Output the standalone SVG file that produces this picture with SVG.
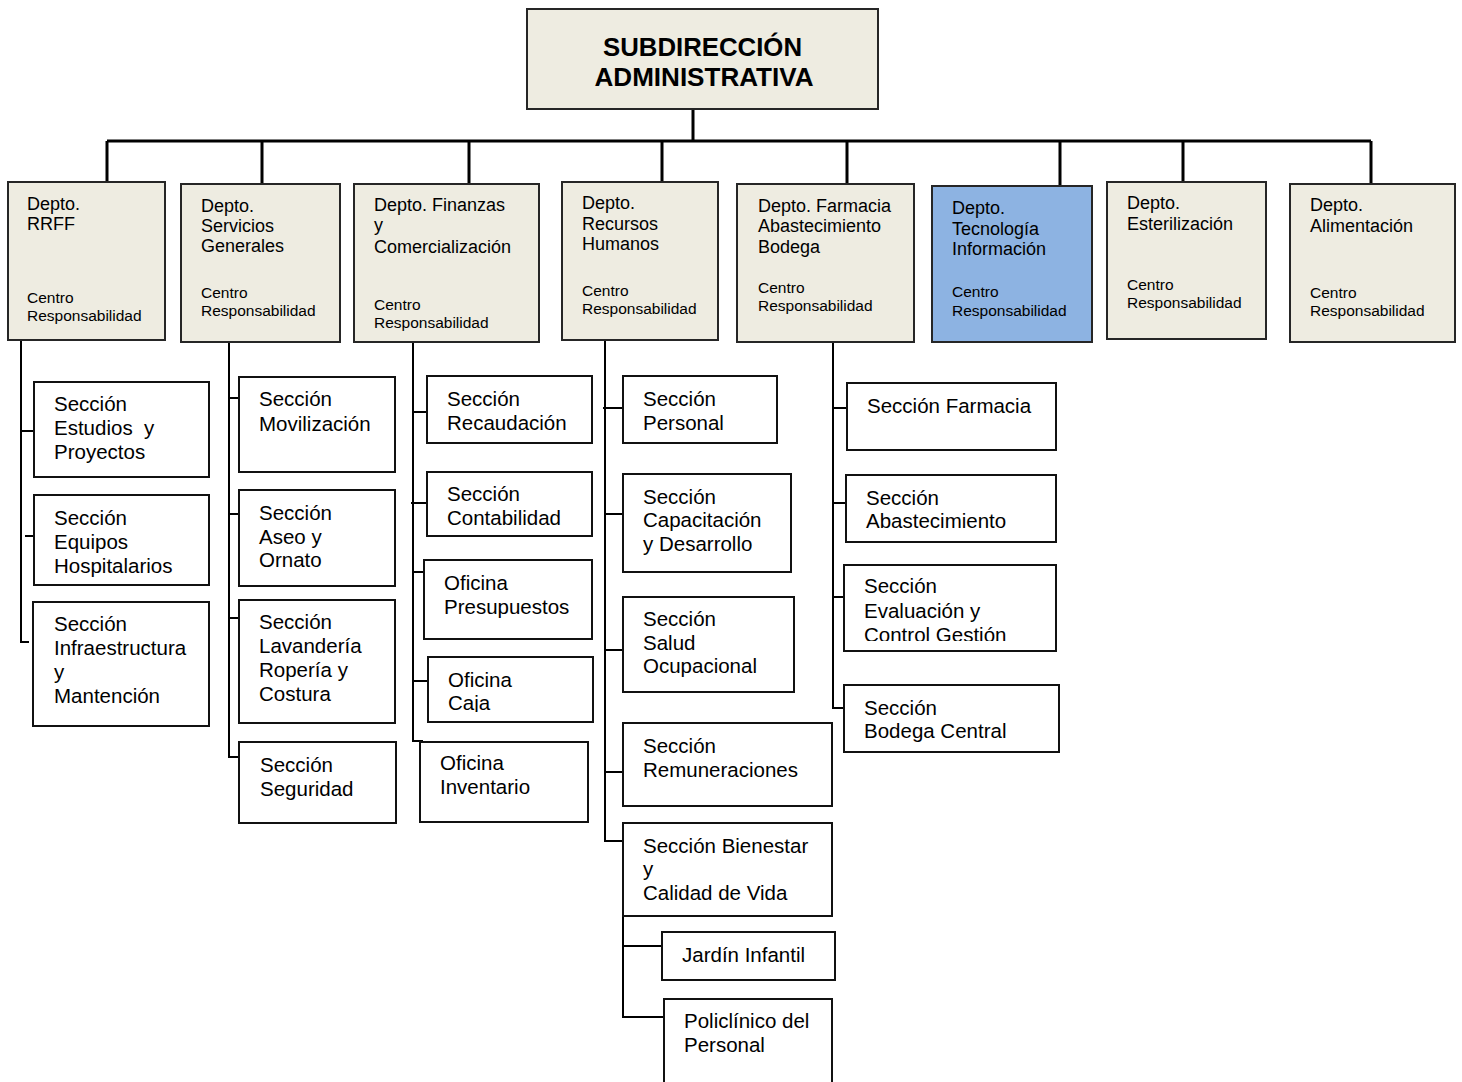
<svg xmlns="http://www.w3.org/2000/svg" width="1462" height="1082" viewBox="0 0 1462 1082">
  <style>
    .head { fill: #EEECE1; stroke: #262626; stroke-width: 2; }
    .dept { fill: #EEECE1; stroke: #262626; stroke-width: 2; }
    .tech { fill: #8DB3E2; stroke: #262626; stroke-width: 2; }
    .sec { fill: #FFFFFF; stroke: #111111; stroke-width: 2; }
    .bus { fill: none; stroke: #000000; stroke-width: 3; }
    .link { fill: none; stroke: #000000; stroke-width: 2; }
    text { font-family: "Liberation Sans", Arial, sans-serif; fill: #000000; }
    .title { font-size: 25.5px; font-weight: bold; text-anchor: middle; }
    .dn { font-size: 18px; }
    .cr { font-size: 15.5px; }
    .st { font-size: 20.5px; }
  </style>
  <defs>
    <clipPath id="clipCaja"><rect x="428" y="657" width="166" height="55"/></clipPath>
    <clipPath id="clipEval"><rect x="843" y="565" width="214" height="76"/></clipPath>
  </defs>

  <!-- connectors -->
  <g id="connectors">
    <path class="bus" d="M693 109 V141 M107 141 H1371 M107 141 V182 M262 141 V184 M469 141 V184 M662 141 V182 M847 141 V184 M1060 141 V186 M1183 141 V182 M1371 141 V184"/>
    <path class="link" d="M21 340 V642 H29 M21 431 H33 M25 536 H33"/>
    <path class="link" d="M229 342 V757 H239 M229 398 H239 M229 514 H239 M229 618 H239"/>
    <path class="link" d="M413 342 V741 H423 M413 412 H427 M411 503 H427 M413 572 H424 M413 681 H428"/>
    <path class="link" d="M605 340 V841 H623 M603 408 H623 M605 514 H623 M604 650 H623 M605 772 H623"/>
    <path class="link" d="M623 916 V1017 H664 M623 946 H662"/>
    <path class="link" d="M833 342 V708 H844 M833 408 H847 M833 503 H846 M833 597 H844"/>
  </g>

  <!-- top node -->
  <g id="subdireccion">
    <rect class="head" x="527" y="9" width="351" height="100"/>
    <text class="title" x="702.5" y="56" textLength="199" lengthAdjust="spacingAndGlyphs">SUBDIRECCIÓN</text>
    <text class="title" x="704" y="86" textLength="219" lengthAdjust="spacingAndGlyphs">ADMINISTRATIVA</text>
  </g>

  <!-- departments -->
  <g id="depto-rrff">
    <rect class="dept" x="8" y="182" width="157" height="158"/>
    <text class="dn" x="27" y="210">Depto.</text>
    <text class="dn" x="27" y="230">RRFF</text>
    <text class="cr" x="27" y="303">Centro</text>
    <text class="cr" x="27" y="321">Responsabilidad</text>
  </g>
  <g id="depto-servicios">
    <rect class="dept" x="181" y="184" width="159" height="158"/>
    <text class="dn" x="201" y="212">Depto.</text>
    <text class="dn" x="201" y="232">Servicios</text>
    <text class="dn" x="201" y="252">Generales</text>
    <text class="cr" x="201" y="298">Centro</text>
    <text class="cr" x="201" y="316">Responsabilidad</text>
  </g>
  <g id="depto-finanzas">
    <rect class="dept" x="354" y="184" width="185" height="158"/>
    <text class="dn" x="374" y="211">Depto. Finanzas</text>
    <text class="dn" x="374" y="231">y</text>
    <text class="dn" x="374" y="253">Comercialización</text>
    <text class="cr" x="374" y="310">Centro</text>
    <text class="cr" x="374" y="328">Responsabilidad</text>
  </g>
  <g id="depto-rrhh">
    <rect class="dept" x="562" y="182" width="156" height="158"/>
    <text class="dn" x="582" y="209">Depto.</text>
    <text class="dn" x="582" y="230">Recursos</text>
    <text class="dn" x="582" y="250">Humanos</text>
    <text class="cr" x="582" y="296">Centro</text>
    <text class="cr" x="582" y="314">Responsabilidad</text>
  </g>
  <g id="depto-farmacia">
    <rect class="dept" x="737" y="184" width="177" height="158"/>
    <text class="dn" x="758" y="212">Depto. Farmacia</text>
    <text class="dn" x="758" y="232">Abastecimiento</text>
    <text class="dn" x="758" y="253">Bodega</text>
    <text class="cr" x="758" y="293">Centro</text>
    <text class="cr" x="758" y="311">Responsabilidad</text>
  </g>
  <g id="depto-tecnologia">
    <rect class="tech" x="932" y="186" width="160" height="156"/>
    <text class="dn" x="952" y="214">Depto.</text>
    <text class="dn" x="952" y="235">Tecnología</text>
    <text class="dn" x="952" y="255">Información</text>
    <text class="cr" x="952" y="297">Centro</text>
    <text class="cr" x="952" y="316">Responsabilidad</text>
  </g>
  <g id="depto-esterilizacion">
    <rect class="dept" x="1107" y="182" width="159" height="157"/>
    <text class="dn" x="1127" y="209">Depto.</text>
    <text class="dn" x="1127" y="230">Esterilización</text>
    <text class="cr" x="1127" y="290">Centro</text>
    <text class="cr" x="1127" y="308">Responsabilidad</text>
  </g>
  <g id="depto-alimentacion">
    <rect class="dept" x="1290" y="184" width="165" height="158"/>
    <text class="dn" x="1310" y="211">Depto.</text>
    <text class="dn" x="1310" y="232">Alimentación</text>
    <text class="cr" x="1310" y="298">Centro</text>
    <text class="cr" x="1310" y="316">Responsabilidad</text>
  </g>

  <!-- RRFF sections -->
  <g id="sec-estudios">
    <rect class="sec" x="34" y="382" width="175" height="95"/>
    <text class="st" x="54" y="411">Sección</text>
    <text class="st" x="54" y="435" xml:space="preserve">Estudios  y</text>
    <text class="st" x="54" y="459">Proyectos</text>
  </g>
  <g id="sec-equipos">
    <rect class="sec" x="34" y="495" width="175" height="90"/>
    <text class="st" x="54" y="525">Sección</text>
    <text class="st" x="54" y="549">Equipos</text>
    <text class="st" x="54" y="573">Hospitalarios</text>
  </g>
  <g id="sec-infraestructura">
    <rect class="sec" x="33" y="602" width="176" height="124"/>
    <text class="st" x="54" y="631">Sección</text>
    <text class="st" x="54" y="655">Infraestructura</text>
    <text class="st" x="54" y="679">y</text>
    <text class="st" x="54" y="703">Mantención</text>
  </g>

  <!-- Servicios Generales sections -->
  <g id="sec-movilizacion">
    <rect class="sec" x="239" y="377" width="156" height="95"/>
    <text class="st" x="259" y="406">Sección</text>
    <text class="st" x="259" y="431">Movilización</text>
  </g>
  <g id="sec-aseo">
    <rect class="sec" x="239" y="490" width="156" height="96"/>
    <text class="st" x="259" y="520">Sección</text>
    <text class="st" x="259" y="544">Aseo y</text>
    <text class="st" x="259" y="567">Ornato</text>
  </g>
  <g id="sec-lavanderia">
    <rect class="sec" x="239" y="600" width="156" height="123"/>
    <text class="st" x="259" y="629">Sección</text>
    <text class="st" x="259" y="653">Lavandería</text>
    <text class="st" x="259" y="677">Ropería y</text>
    <text class="st" x="259" y="701">Costura</text>
  </g>
  <g id="sec-seguridad">
    <rect class="sec" x="239" y="742" width="157" height="81"/>
    <text class="st" x="260" y="772">Sección</text>
    <text class="st" x="260" y="796">Seguridad</text>
  </g>

  <!-- Finanzas sections -->
  <g id="sec-recaudacion">
    <rect class="sec" x="427" y="376" width="165" height="67"/>
    <text class="st" x="447" y="406">Sección</text>
    <text class="st" x="447" y="430">Recaudación</text>
  </g>
  <g id="sec-contabilidad">
    <rect class="sec" x="427" y="472" width="165" height="64"/>
    <text class="st" x="447" y="501">Sección</text>
    <text class="st" x="447" y="525">Contabilidad</text>
  </g>
  <g id="of-presupuestos">
    <rect class="sec" x="424" y="560" width="168" height="79"/>
    <text class="st" x="444" y="590">Oficina</text>
    <text class="st" x="444" y="614">Presupuestos</text>
  </g>
  <g id="of-caja">
    <rect class="sec" x="428" y="657" width="165" height="65"/>
    <g clip-path="url(#clipCaja)">
      <text class="st" x="448" y="687">Oficina</text>
      <text class="st" x="448" y="710">Caja</text>
    </g>
  </g>
  <g id="of-inventario">
    <rect class="sec" x="420" y="742" width="168" height="80"/>
    <text class="st" x="440" y="770">Oficina</text>
    <text class="st" x="440" y="794">Inventario</text>
  </g>

  <!-- Recursos Humanos sections -->
  <g id="sec-personal">
    <rect class="sec" x="623" y="376" width="154" height="67"/>
    <text class="st" x="643" y="406">Sección</text>
    <text class="st" x="643" y="430">Personal</text>
  </g>
  <g id="sec-capacitacion">
    <rect class="sec" x="623" y="474" width="168" height="98"/>
    <text class="st" x="643" y="504">Sección</text>
    <text class="st" x="643" y="527">Capacitación</text>
    <text class="st" x="643" y="551">y Desarrollo</text>
  </g>
  <g id="sec-salud">
    <rect class="sec" x="623" y="597" width="171" height="95"/>
    <text class="st" x="643" y="626">Sección</text>
    <text class="st" x="643" y="650">Salud</text>
    <text class="st" x="643" y="673">Ocupacional</text>
  </g>
  <g id="sec-remuneraciones">
    <rect class="sec" x="623" y="723" width="209" height="83"/>
    <text class="st" x="643" y="753">Sección</text>
    <text class="st" x="643" y="777">Remuneraciones</text>
  </g>
  <g id="sec-bienestar">
    <rect class="sec" x="623" y="823" width="209" height="93"/>
    <text class="st" x="643" y="853">Sección Bienestar</text>
    <text class="st" x="643" y="876">y</text>
    <text class="st" x="643" y="900">Calidad de Vida</text>
  </g>
  <g id="jardin-infantil">
    <rect class="sec" x="662" y="932" width="173" height="48"/>
    <text class="st" x="682" y="962">Jardín Infantil</text>
  </g>
  <g id="policlinico">
    <path class="sec" d="M664 1084 V999 H832 V1084"/>
    <text class="st" x="684" y="1028">Policlínico del</text>
    <text class="st" x="684" y="1052">Personal</text>
  </g>

  <!-- Farmacia sections -->
  <g id="sec-farmacia">
    <rect class="sec" x="847" y="383" width="209" height="67"/>
    <text class="st" x="867" y="413">Sección Farmacia</text>
  </g>
  <g id="sec-abastecimiento">
    <rect class="sec" x="846" y="475" width="210" height="67"/>
    <text class="st" x="866" y="505">Sección</text>
    <text class="st" x="866" y="528">Abastecimiento</text>
  </g>
  <g id="sec-evaluacion">
    <rect class="sec" x="844" y="565" width="212" height="86"/>
    <g clip-path="url(#clipEval)">
      <text class="st" x="864" y="593">Sección</text>
      <text class="st" x="864" y="618">Evaluación y</text>
      <text class="st" x="864" y="642">Control Gestión</text>
    </g>
  </g>
  <g id="sec-bodega">
    <rect class="sec" x="844" y="685" width="215" height="67"/>
    <text class="st" x="864" y="715">Sección</text>
    <text class="st" x="864" y="738">Bodega Central</text>
  </g>
</svg>
